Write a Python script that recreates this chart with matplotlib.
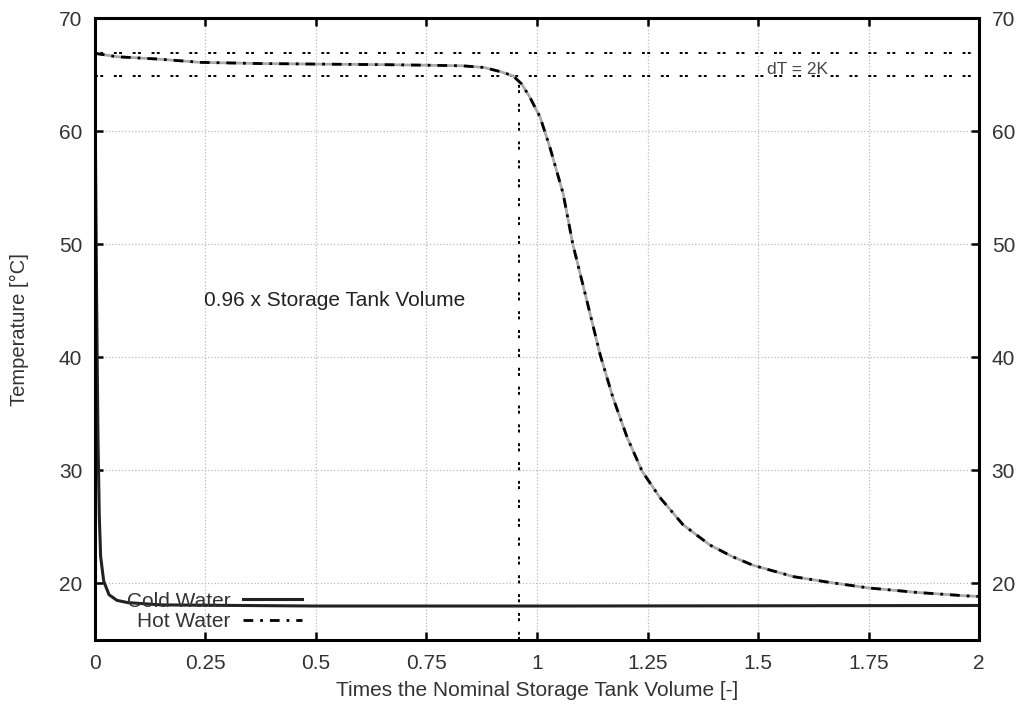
import numpy as np
import matplotlib
matplotlib.use("Agg")
import matplotlib.pyplot as plt

plt.rcParams['font.family'] = ['Liberation Sans', 'DejaVu Sans']

# --- datos ---
hot_x = [0.0, 0.05, 0.14, 0.24, 0.37, 0.5, 0.65, 0.75, 0.83, 0.88, 0.92, 0.946, 0.965,
         0.984, 1.007, 1.029, 1.059, 1.081, 1.109, 1.143, 1.172, 1.204, 1.238, 1.278,
         1.33, 1.391, 1.44, 1.489, 1.58, 1.66, 1.75, 1.86, 1.97, 2.0]
hot_y = [66.9, 66.6, 66.4, 66.1, 66.0, 65.95, 65.9, 65.85, 65.8, 65.65, 65.25, 64.9, 64.2,
         63.0, 61.25, 58.6, 54.5, 50.0, 45.6, 40.2, 36.4, 32.9, 29.9, 27.6,
         25.2, 23.4, 22.4, 21.6, 20.6, 20.1, 19.6, 19.2, 18.9, 18.85]

cold_x = [0.0, 0.002, 0.004, 0.007, 0.01, 0.013, 0.02, 0.032, 0.05, 0.075, 0.15,
          0.5, 1.0, 1.5, 2.0]
cold_y = [66.0, 55.0, 45.0, 33.0, 26.0, 22.4, 20.2, 19.0, 18.5, 18.3, 18.1,
          18.0, 18.0, 18.02, 18.05]

dt_upper = 66.9
dt_lower = 64.9
x_cut = 0.96

x_ticks = [0, 0.25, 0.5, 0.75, 1, 1.25, 1.5, 1.75, 2]
x_tick_labels = ["0", "0.25", "0.5", "0.75", "1", "1.25", "1.5", "1.75", "2"]
y_ticks = [20, 30, 40, 50, 60, 70]

fig = plt.figure(figsize=(10.2, 7.04), dpi=100)
ax = fig.add_axes([0.093, 0.091, 0.867, 0.883])

# lineas de referencia dT = 2K
ref_ls = (0, (1.5, 1.2, 1.5, 5.5))
ax.plot([0, 2], [dt_upper, dt_upper], color='black', lw=1.4, ls=ref_ls)
ax.plot([0, 2], [dt_lower, dt_lower], color='black', lw=1.4, ls=ref_ls)
ax.plot([x_cut, x_cut], [15, dt_lower], color='black', lw=1.4, ls=ref_ls)

# curvas
ax.plot(cold_x, cold_y, color='#222222', lw=2.2, label='Cold Water')
ax.plot(hot_x, hot_y, color='#aaaaaa', lw=2.0)
hot_line, = ax.plot(hot_x, hot_y, color='black', lw=2.0, ls=(0, (3.5, 2.5, 1, 2.5)))
hot_line.set_label('Hot Water')

ax.set_xlim(0, 2)
ax.set_ylim(15, 70)
ax.set_xticks(x_ticks)
ax.set_xticklabels(x_tick_labels)
ax.set_yticks(y_ticks)

ax.grid(True, color='#bbbbbb', ls=':', lw=0.9)
ax.tick_params(direction='in', length=6, width=1.8, labelsize=15, colors='black',
               top=True, right=True, labelright=True, pad=9)
ax.tick_params(axis='x', pad=10)
for lab in ax.get_xticklabels() + ax.get_yticklabels():
    lab.set_color('#333333')
for sp in ax.spines.values():
    sp.set_linewidth(2.2)

ax.set_xlabel('Times the Nominal Storage Tank Volume [-]', fontsize=15, color='#333333')
ax.xaxis.set_label_coords(0.5, -0.066)
ax.set_ylabel('Temperature [°C]', fontsize=14.5, color='#333333')
ax.yaxis.set_label_coords(-0.074, 0.5)

ax.text(0.247, 45.0, '0.96 x Storage Tank Volume', fontsize=15, va='center', ha='left',
        color='#222222')
ax.text(1.52, 65.5, 'dT = 2K', fontsize=12.5, va='center', ha='left', color='#444444')

leg = ax.legend(loc='lower right', bbox_to_anchor=(0.239, 0.008), markerfirst=False,
                frameon=False, fontsize=15, handlelength=2.85, handletextpad=0.6,
                labelspacing=0.05, borderpad=0.2, borderaxespad=0)
for t in leg.get_texts():
    t.set_color('#333333')

fig.savefig('out.png', dpi=100)
